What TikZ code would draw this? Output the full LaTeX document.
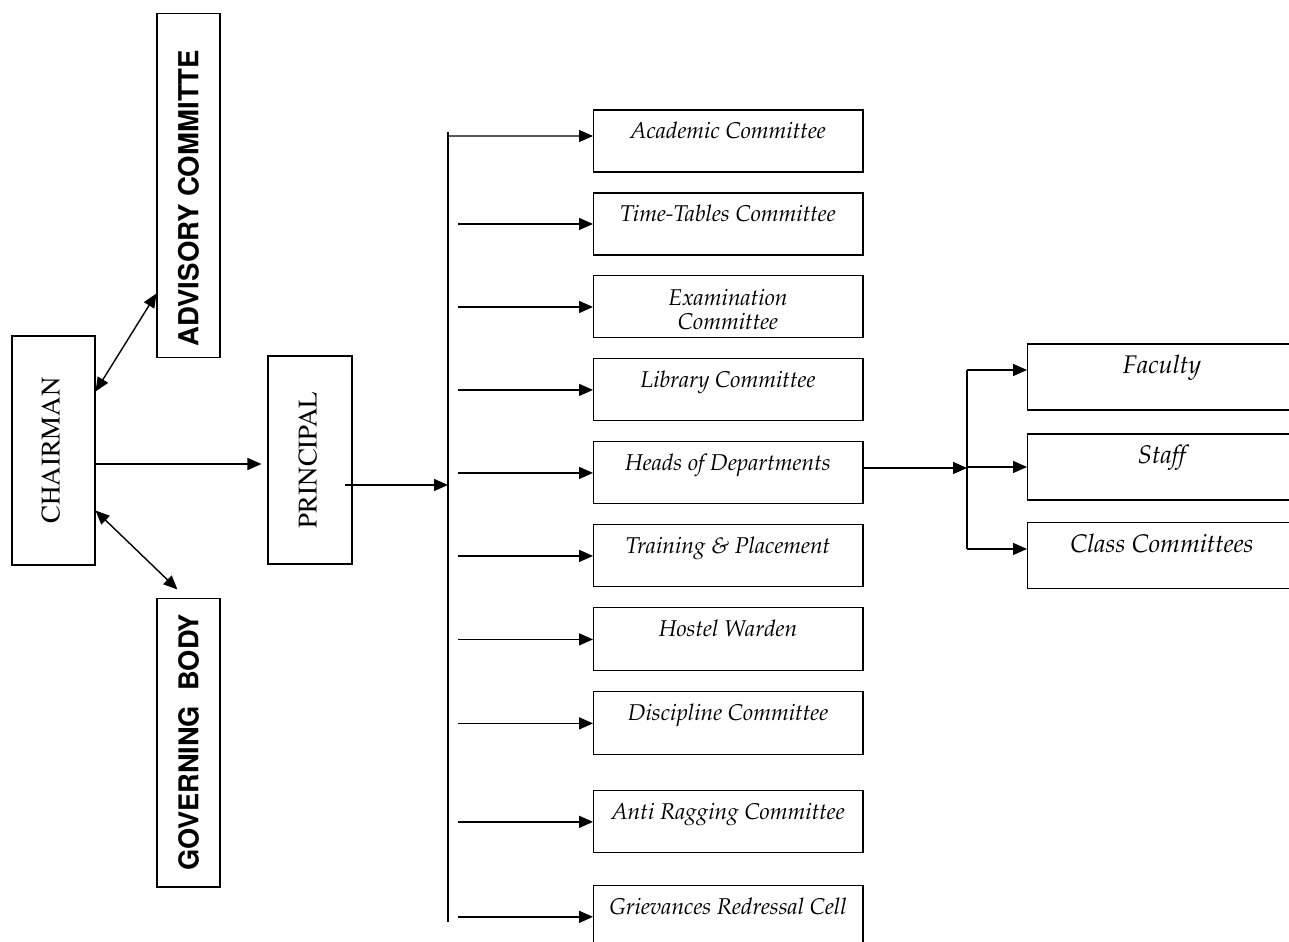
\documentclass[tikz,border=0pt]{standalone}
\usepackage[T1]{fontenc}
\usepackage{graphicx}
\usetikzlibrary{arrows.meta,positioning}

\newcommand{\pal}{\fontfamily{ppl}\itshape}
\tikzset{
  tip/.style={-{Triangle[length=0.28cm,width=0.24cm]}},
  arr/.style={tip, line width=0.8pt},
  darr/.style={{Triangle[length=0.28cm,width=0.24cm]}-{Triangle[length=0.28cm,width=0.24cm]}, line width=0.8pt},
  tallbox/.style={draw, line width=0.6pt, inner sep=0pt},
  combox/.style={draw, line width=0.6pt, inner sep=0pt, outer sep=0pt, minimum width=5.4cm,
    text height=0.58cm, text depth=0.66cm, align=center,
    font=\pal\fontsize{13}{14.2}\selectfont},
  subbox/.style={draw, line width=0.6pt, inner sep=0pt, outer sep=0pt, minimum width=5.4cm,
    text height=0.6cm, text depth=0.72cm,
    font=\pal\fontsize{14.5}{16}\selectfont}
}

\begin{document}
\begin{tikzpicture}[x=0.02cm, y=-0.02cm, node distance=0.42cm]
  \useasboundingbox (0,0) rectangle (1289,942);

  % left column
  \node[tallbox, minimum width=1.66cm, minimum height=4.58cm] (chair) at (53.5,450.5)
    {\rotatebox{90}{\raisebox{0.12cm}{\fontfamily{ptm}\fontsize{15.3}{17}\selectfont CHAIRMAN}}};
  \node[tallbox, minimum width=1.26cm, minimum height=6.9cm] (adv) at (188.5,185.5)
    {\rotatebox{90}{\fontfamily{phv}\bfseries\fontsize{15.7}{17}\selectfont ADVISORY COMMITTE\hspace{0.5cm}}};
  \node[tallbox, minimum width=1.26cm, minimum height=5.78cm] (gov) at (188.5,742.5)
    {\rotatebox{90}{\fontfamily{phv}\bfseries\fontsize{15.5}{17}\selectfont GOVERNING\ \ BODY}};
  \node[tallbox, minimum width=1.68cm, minimum height=4.16cm] (prin) at (310,460)
    {\rotatebox{90}{\raisebox{0.1cm}{\fontfamily{ptm}\fontsize{15.3}{17}\selectfont PRINCIPAL}}};

  % committees
  \node[combox] (acad) at (728,141) {Academic Committee};
  \node[combox, below=of acad] (time) {Time-Tables Committee};
  \node[combox, below=of time, text height=1.08cm, text depth=0.16cm] (exam) {Examination\\Committee};
  \node[combox, below=of exam] (lib) {Library Committee};
  \node[combox, below=of lib] (hod) {Heads of Departments};
  \node[combox, below=of hod] (tnp) {Training \& Placement};
  \node[combox, below=of tnp, text depth=0.68cm] (host) {Hostel Warden};
  \node[combox, below=of host, text depth=0.68cm] (disc) {Discipline Committee};
  \node[combox, below=0.72cm of disc] (rag) {Anti Ragging Committee};
  \node[combox, below=0.66cm of rag] (griev) {Grievances Redressal Cell};

  % under heads of departments
  \node[subbox] (fac) at (1162,377) {Faculty};
  \node[subbox, below=0.48cm of fac] (staff) {Staff};
  \node[subbox, below=0.46cm of staff] (cls) {Class Committees};

  \coordinate (bustop) at (448,132);
  \coordinate (busbot) at (448,922);
  \coordinate (split) at (967,468);

  \begin{scope}[line width=0.8pt]
    \draw[darr] ([yshift=-1.12cm]chair.north east) -- ([yshift=1.3cm]adv.south west);
    \draw[darr] ([yshift=1.1cm]chair.south east) -- ([xshift=0.42cm,yshift=0.16cm]gov.north west);
    \draw[arr] ([yshift=-0.08cm]chair.east |- prin.west) -- ([xshift=-0.12cm,yshift=-0.08cm]prin.west);
    \draw[arr] ([xshift=-0.16cm,yshift=-0.5cm]prin.east) -- ([yshift=-0.5cm]bustop |- prin.east);
    \draw (bustop) -- (busbot);
    \draw[arr] (bustop |- 0,136) -- ([yshift=0.1cm]acad.west);
    \foreach \c in {time,exam,lib,hod,tnp,host,disc,rag,griev}
      \draw[arr, shorten <=0.2cm] (bustop |- \c.west) -- (\c.west);
    \draw[arr] (split -| hod.east) -- (split);
    \draw ([yshift=0.14cm]split |- fac.west) -- ([yshift=0.14cm]split |- cls.west);
    \draw[arr] ([yshift=0.14cm]split |- fac.west) -- ([yshift=0.14cm]fac.west);
    \draw[arr] (split |- staff.west) -- (staff.west);
    \draw[arr] ([yshift=0.14cm]split |- cls.west) -- ([yshift=0.14cm]cls.west);
  \end{scope}
\end{tikzpicture}
\end{document}
